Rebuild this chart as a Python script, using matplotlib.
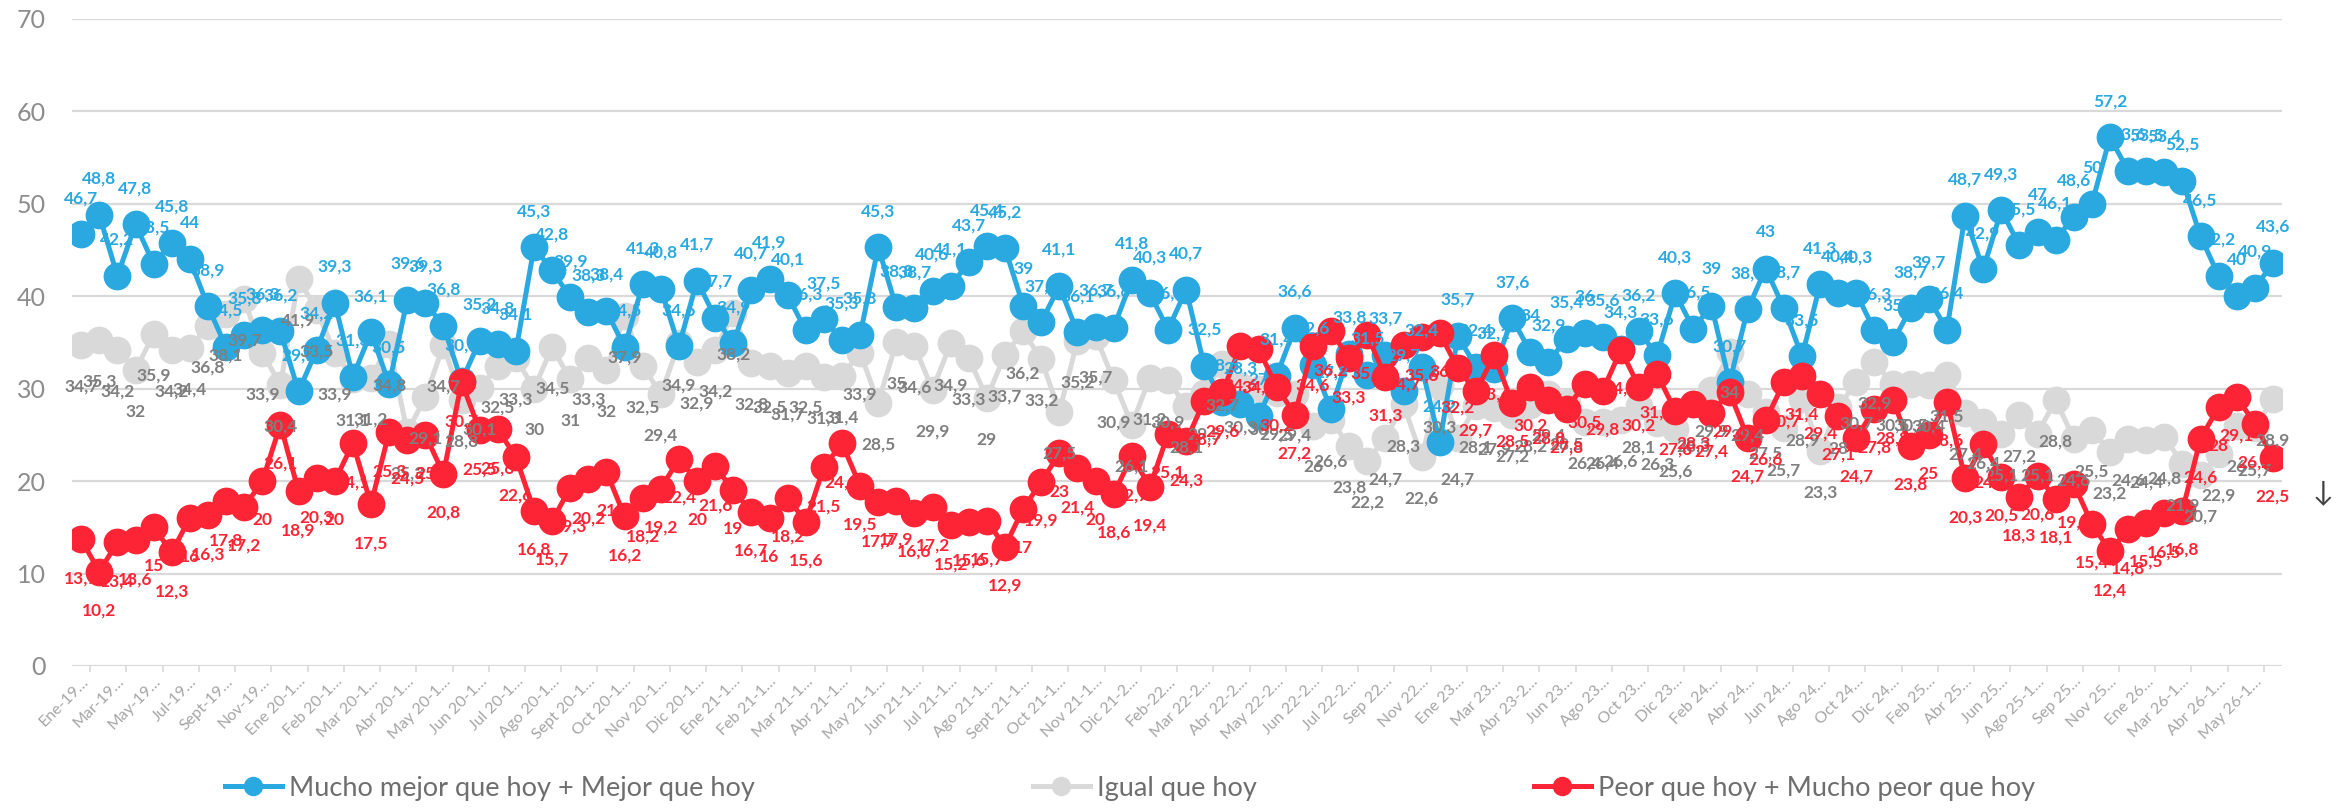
import numpy as np
import matplotlib.pyplot as plt
from matplotlib.lines import Line2D

plt.rcParams['font.family'] = ['Lato', 'DejaVu Sans']

# Series values (122 survey waves, Jan 2019 - May 2026)
mejor = [46.7, 48.8, 42.2, 47.8, 43.5, 45.8, 44, 38.9, 34.5, 35.8,
         36.3, 36.2, 29.7, 34.2, 39.3, 31.3, 36.1, 30.5, 39.6, 39.3,
         36.8, 30.8, 35.2, 34.8, 34.1, 45.3, 42.8, 39.9, 38.3, 38.4,
         34.5, 41.3, 40.8, 34.6, 41.7, 37.7, 34.9, 40.7, 41.9, 40.1,
         36.3, 37.5, 35.3, 35.8, 45.3, 38.8, 38.7, 40.6, 41.1, 43.7,
         45.4, 45.2, 39, 37.2, 41.1, 36.1, 36.7, 36.6, 41.8, 40.3,
         36.4, 40.7, 32.5, 28.6, 28.3, 27.0, 31.4, 36.6, 32.6, 27.8,
         33.8, 31.5, 33.7, 29.7, 32.4, 24.2, 35.7, 32.4, 32.1, 37.6,
         34, 32.9, 35.4, 36, 35.6, 34.3, 36.2, 33.6, 40.3, 36.5,
         39, 30.7, 38.6, 43, 38.7, 33.5, 41.3, 40.4, 40.3, 36.3,
         35, 38.7, 39.7, 36.4, 48.7, 42.9, 49.3, 45.5, 47, 46.1,
         48.6, 50, 57.2, 53.6, 53.5, 53.4, 52.5, 46.5, 42.2, 40,
         40.9, 43.6]

igual = [34.7, 35.3, 34.2, 32, 35.9, 34.2, 34.4, 36.8, 38.1, 39.7,
         33.9, 30.4, 41.9, 38.5, 33.9, 31.1, 31.2, 34.8, 25.3, 29.1,
         34.7, 28.8, 30.1, 32.5, 33.3, 30, 34.5, 31, 33.3, 32,
         37.9, 32.5, 29.4, 34.9, 32.9, 34.2, 38.2, 32.8, 32.5, 31.7,
         32.5, 31.3, 31.4, 33.9, 28.5, 35, 34.6, 29.9, 34.9, 33.3,
         29, 33.7, 36.2, 33.2, 27.5, 35.2, 35.7, 30.9, 26.1, 31.2,
         30.9, 28.1, 29.5, 32.7, 30.3, 30.0, 29.5, 29.4, 26, 26.6,
         23.8, 22.2, 24.7, 28.3, 22.6, 30.3, 24.7, 28.1, 27.9, 27.2,
         28.2, 29.4, 28.5, 26.4, 26.4, 26.6, 28.1, 26.3, 25.6, 28.3,
         29.9, 34, 29.4, 27.5, 25.7, 28.9, 23.3, 28, 30.7, 32.9,
         30.5, 30.5, 30.4, 31.5, 27.4, 26.4, 25.1, 27.2, 25.1, 28.8,
         24.6, 25.5, 23.2, 24.6, 24.4, 24.8, 21.9, 20.7, 22.9, 26,
         25.7, 28.9]

peor = [13.7, 10.2, 13.4, 13.6, 15, 12.3, 16, 16.3, 17.8, 17.2,
        20, 26.1, 18.9, 20.3, 20, 24.1, 17.5, 25.3, 24.5, 25,
        20.8, 30.7, 25.5, 25.6, 22.6, 16.8, 15.7, 19.3, 20.2, 21,
        16.2, 18.2, 19.2, 22.4, 20, 21.6, 19, 16.7, 16, 18.2,
        15.6, 21.5, 24.1, 19.5, 17.7, 17.9, 16.6, 17.2, 15.2, 15.6,
        15.7, 12.9, 17, 19.9, 23, 21.4, 20, 18.6, 22.7, 19.4,
        25.1, 24.3, 28.7, 29.6, 34.6, 34.3, 30.2, 27.2, 34.6, 36.2,
        33.3, 35.8, 31.3, 34.7, 35.6, 36, 32.2, 29.7, 33.6, 28.5,
        30.2, 28.8, 27.8, 30.5, 29.8, 34.2, 30.2, 31.6, 27.6, 28.3,
        27.4, 29.6, 24.7, 26.6, 30.7, 31.4, 29.4, 27.1, 24.7, 27.8,
        28.8, 23.8, 25, 28.6, 20.3, 24, 20.5, 18.3, 20.6, 18.1,
        19.7, 15.4, 12.4, 14.8, 15.5, 16.5, 16.8, 24.6, 28, 29.1,
        26.2, 22.5]

tick_labels = ['Ene-19…', 'Mar-19…', 'May-19…', 'Jul-19…', 'Sept-19…', 'Nov-19…',
               'Ene 20-1…', 'Feb 20-1…', 'Mar 20-1…', 'Abr 20-1…', 'May 20-1…',
               'Jun 20-1…', 'Jul 20-1…', 'Ago 20-1…', 'Sept 20-1…', 'Oct 20-1…',
               'Nov 20-1…', 'Dic 20-1…', 'Ene 21-1…', 'Feb 21-1…', 'Mar 21-1…',
               'Abr 21-1…', 'May 21-1…', 'Jun 21-1…', 'Jul 21-1…', 'Ago 21-1…',
               'Sept 21-1…', 'Oct 21-1…', 'Nov 21-1…', 'Dic 21-2…', 'Feb-22…',
               'Mar 22-2…', 'Abr 22-2…', 'May 22-2…', 'Jun 22-2…', 'Jul 22-2…',
               'Sep 22…', 'Nov 22…', 'Ene 23…', 'Mar 23…', 'Abr 23-2…', 'Jun 23…',
               'Ago 23…', 'Oct 23…', 'Dic 23…', 'Feb 24…', 'Abr 24…', 'Jun 24…',
               'Ago 24…', 'Oct 24…', 'Dic 24…', 'Feb 25…', 'Abr 25…', 'Jun 25…',
               'Ago 25-1…', 'Sep 25…', 'Nov 25…', 'Ene 26…', 'Mar 26-1…',
               'Abr 26-1…', 'May 26-1…']

series_names = ['Mucho mejor que hoy + Mejor que hoy', 'Igual que hoy',
                'Peor que hoy + Mucho peor que hoy']

BLUE = '#29A9E0'
GREY = '#D9D9D9'
RED = '#FD2535'


def fmt(v):
    if float(v).is_integer():
        return str(int(v))
    return f'{v:.1f}'.replace('.', ',')


fig = plt.figure(figsize=(23.49, 8.11), dpi=100)
ax = fig.add_axes([0.0307, 0.1788, 0.9408, 0.7978])
x = np.arange(len(mejor))

# grey at the back, then blue, red on top; labels above all lines
styles = [
    (igual, GREY, '#7F7F7F', -30, 2),
    (mejor, BLUE, BLUE, 26, 3),
    (peor, RED, RED, -28, 4),
]
for vals, col, lcol, dy, z in styles:
    ax.plot(x, vals, color=col, lw=3.6, marker='o', markersize=20,
            markeredgewidth=0, zorder=z)
    for xi, v in zip(x, vals):
        ax.annotate(fmt(v), (xi, v), xytext=(0, dy), textcoords='offset points',
                    ha='center', va='center', fontsize=12.5, fontweight='bold',
                    color=lcol, zorder=10)

ax.set_xlim(-0.5, len(mejor) - 0.5)
ax.set_ylim(0, 70)
ax.set_yticks(range(0, 71, 10))
ax.grid(axis='y', color='#D9D9D9', lw=1.6)
ax.set_axisbelow(True)
for s in ax.spines.values():
    s.set_visible(False)

ax.set_xticks(x[::2])
ax.set_xticklabels(tick_labels, rotation=45, ha='right', rotation_mode='anchor',
                   fontsize=11.5, color='#A6A6A6')
ax.set_xticks(np.arange(0.5, len(mejor), 2), minor=True)
ax.tick_params(axis='x', which='major', length=0, pad=6)
ax.tick_params(axis='x', which='minor', length=4, color='#D9D9D9', width=1.2)
ax.tick_params(axis='y', length=0, labelsize=18, labelcolor='#8C8C8C', pad=19)

# one legend entry each, placed where the reference puts them
legend_x = [225, 1033, 1534]
for name, col, lx in zip(series_names, (BLUE, GREY, RED), legend_x):
    h = Line2D([0], [0], color=col, lw=3.6, marker='o', markersize=14,
               markeredgewidth=0)
    fig.legend([h], [name], loc='center left', bbox_to_anchor=(lx / 2349, 0.028),
               frameon=False, fontsize=19.5, labelcolor='#6E6E6E',
               handlelength=2.1, handletextpad=0.25, borderpad=0,
               borderaxespad=0)

fig.text(2323 / 2349, 1 - 492 / 811, '↓', fontsize=20, color='#404040',
         ha='center', va='center')

fig.savefig('out.png', dpi=100)
